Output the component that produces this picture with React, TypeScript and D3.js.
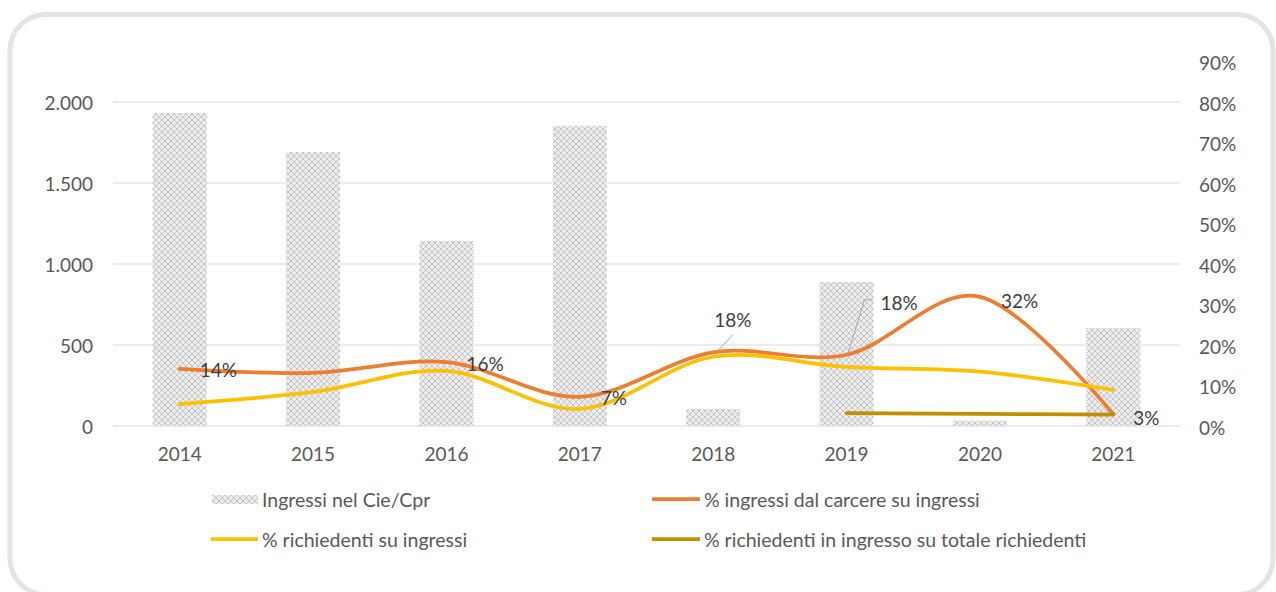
import React from 'react';
import * as d3 from 'd3';

const years = ['2014', '2015', '2016', '2017', '2018', '2019', '2020', '2021'];
const ingressi = [1932, 1691, 1142, 1852, 105, 889, 33, 605];
const carcerePct = [14.1, 13.1, 15.8, 7.2, 18.2, 17.6, 31.9, 2.9];
const richiedentiPct = [5.4, 8.4, 13.6, 4.2, 17.1, 14.6, 13.4, 8.9];
const richiedentiTotPct: (number | null)[] = [null, null, null, null, null, 3.2, 3.0, 2.8];
const leftTicks = [0, 500, 1000, 1500, 2000];
const rightTicks = [0, 10, 20, 30, 40, 50, 60, 70, 80, 90];
const carcereLabels = ['14%', '13%', '16%', '7%', '18%', '18%', '32%', '3%'];
const showLabel = [true, false, true, true, true, true, true, true];

const FONT = 'Lato, "Open Sans", sans-serif';
const W = 1276;
const H = 592;
const plot = { left: 113, right: 1180, top: 61.5, bottom: 426 };

export default function App() {
  const x = d3.scaleBand<string>().domain(years).range([plot.left, plot.right]).paddingInner(0).paddingOuter(0);
  const yL = d3.scaleLinear().domain([0, 2250]).range([plot.bottom, plot.top]);
  const yR = d3.scaleLinear().domain([0, 90]).range([plot.bottom, plot.top]);
  const cx = (y: string) => (x(y) as number) + x.bandwidth() / 2;
  const barW = 54;

  const line = d3
    .line<[number, number]>()
    .x((d) => d[0])
    .y((d) => d[1])
    .curve(d3.curveCatmullRom.alpha(0));

  const orangePts: [number, number][] = years.map((yv, i) => [cx(yv), yR(carcerePct[i])]);
  const yellowPts: [number, number][] = years.map((yv, i) => [cx(yv), yR(richiedentiPct[i])]);
  const goldPts: [number, number][] = years
    .map((yv, i) => [yv, richiedentiTotPct[i]] as [string, number | null])
    .filter((d) => d[1] !== null)
    .map((d) => [cx(d[0]), yR(d[1] as number)]);

  // label offsets relative to point (Excel "right" placement, two moved manually)
  const labelOffset: [number, number][] = [
    [20, 1], [20, 1], [20, 1], [21, 1], [1, -33], [34, -52], [21, 4], [20, 3],
  ];

  const tickColor = '#595959';
  const labelColor = '#404040';
  const fs = 19;
  const lfs = 19.5;

  return (
    <svg width={W} height={H} style={{ position: 'absolute', left: 0, top: 0 }} fontFamily={FONT}>
      <defs>
        <pattern id="dots" width="6" height="6" patternUnits="userSpaceOnUse">
          <rect width="6" height="6" fill="#ececec" />
          <path d="M0,0 L6,6 M6,0 L0,6" stroke="#c6c6c6" strokeWidth="1" />
        </pattern>
      </defs>
      <rect x={0} y={0} width={W} height={H} fill="#fff" />
      <rect x={10} y={14.5} width={1263} height={580} rx={36} ry={36} fill="#fff" stroke="#e4e4e4" strokeWidth={5} />

      {/* gridlines */}
      {leftTicks.map((t) => (
        <line key={t} x1={plot.left} x2={plot.right} y1={yL(t)} y2={yL(t)} stroke="#d9d9d9" strokeWidth={1} />
      ))}

      {/* bars */}
      {years.map((yv, i) => (
        <rect key={yv} x={cx(yv) - barW / 2} y={yL(ingressi[i])} width={barW} height={plot.bottom - yL(ingressi[i])} fill="url(#dots)" />
      ))}

      {/* lines */}
      <path d={line(orangePts) || ''} fill="none" stroke="#ED7D31" strokeWidth={3.75} strokeLinecap="round" />
      <path d={line(yellowPts) || ''} fill="none" stroke="#FFC000" strokeWidth={3.75} strokeLinecap="round" />
      <path d={line(goldPts) || ''} fill="none" stroke="#BF9000" strokeWidth={3.75} strokeLinecap="round" />

      {/* leader lines */}
      <line x1={orangePts[4][0] + 3} y1={orangePts[4][1]} x2={orangePts[4][0] + 20} y2={orangePts[4][1] - 18} stroke="#a6a6a6" strokeWidth={1} />
      <polyline points={`${orangePts[5][0] + 1},${orangePts[5][1]} ${orangePts[5][0] + 18},${orangePts[5][1] - 55} ${orangePts[5][0] + 26},${orangePts[5][1] - 55}`} fill="none" stroke="#a6a6a6" strokeWidth={1} />

      {/* data labels */}
      {years.map((yv, i) =>
        showLabel[i] ? (
          <text key={yv} x={orangePts[i][0] + labelOffset[i][0]} y={orangePts[i][1] + labelOffset[i][1]} dominantBaseline="central" fontSize={fs} fill={labelColor}>
            {carcereLabels[i]}
          </text>
        ) : null
      )}

      {/* left axis */}
      {leftTicks.map((t) => (
        <text key={t} x={93} y={yL(t)} textAnchor="end" dominantBaseline="central" fontSize={fs} fill={tickColor}>
          {d3.format(',')(t).replace(/,/g, '.')}
        </text>
      ))}
      {/* right axis */}
      {rightTicks.map((t) => (
        <text key={t} x={1199} y={yR(t) + 1} textAnchor="start" dominantBaseline="central" fontSize={fs} fill={tickColor}>
          {t}%
        </text>
      ))}
      {/* x axis */}
      {years.map((yv) => (
        <text key={yv} x={cx(yv)} y={453} textAnchor="middle" dominantBaseline="central" fontSize={fs} fill={tickColor}>
          {yv}
        </text>
      ))}

      {/* legend */}
      <rect x={212} y={495} width={46} height={9} fill="url(#dots)" />
      <text x={262} y={499} dominantBaseline="central" fontSize={lfs} fill={tickColor}>Ingressi nel Cie/Cpr</text>
      <line x1={652} x2={700} y1={499} y2={499} stroke="#ED7D31" strokeWidth={3.75} />
      <text x={704} y={499} dominantBaseline="central" fontSize={lfs} fill={tickColor}>% ingressi dal carcere su ingressi</text>
      <line x1={211} x2={258} y1={539} y2={539} stroke="#FFC000" strokeWidth={3.75} />
      <text x={262} y={539} dominantBaseline="central" fontSize={lfs} fill={tickColor}>% richiedenti su ingressi</text>
      <line x1={652} x2={700} y1={539} y2={539} stroke="#BF9000" strokeWidth={3.75} />
      <text x={704} y={539} dominantBaseline="central" fontSize={lfs} fill={tickColor}>% richiedenti in ingresso su totale richiedenti</text>
    </svg>
  );
}
